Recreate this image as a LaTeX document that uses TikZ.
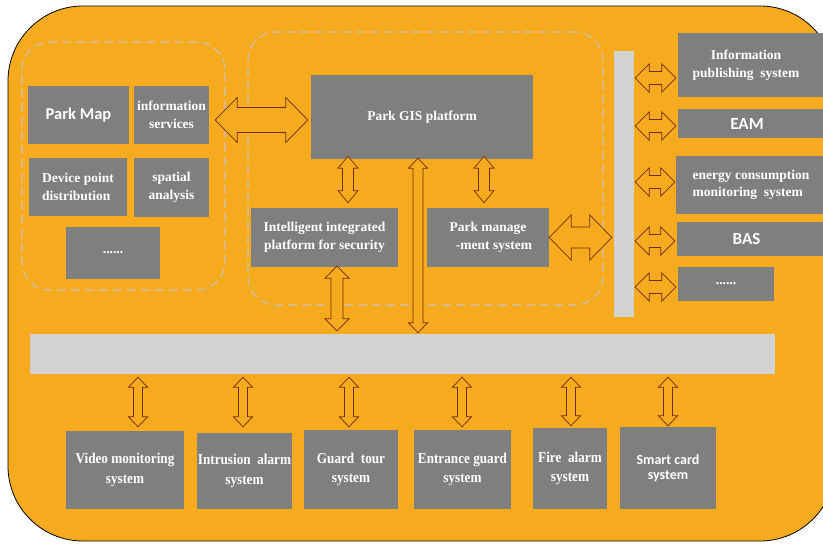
\documentclass[tikz,border=0pt]{standalone}
\usepackage{fontspec}
\setmainfont{Liberation Serif}
\newfontfamily\calfont{Carlito}
\newfontfamily\condfont[FakeStretch=0.88]{Liberation Serif}
\usetikzlibrary{calc}
\definecolor{bgorange}{RGB}{246,170,30}
\definecolor{boxgray}{RGB}{127,127,127}
\definecolor{bargray}{RGB}{210,210,210}
\definecolor{arrowc}{RGB}{110,45,15}
\definecolor{dashgray}{RGB}{200,195,185}
\newcommand\bx[2]{\x1+(#1)*\n3-(#2)*\n4}
\newcommand\by[2]{\y1+(#1)*\n4+(#2)*\n3}
\tikzset{
  bsw/.store in=\bsw, bhw/.store in=\bhw, bhl/.store in=\bhl,
  bsw=5, bhw=10, bhl=10,
  blockarrow/.style={draw=arrowc, fill=bgorange, line width=0.7pt, line join=miter,
    to path={let \p1=(\tikztostart), \p2=(\tikztotarget),
      \n2={veclen(\x2-\x1,\y2-\y1)}, \n3={(\x2-\x1)/\n2}, \n4={(\y2-\y1)/\n2} in
      -- ({\bx{\bhl}{\bhw}},{\by{\bhl}{\bhw}})
      -- ({\bx{\bhl}{\bsw}},{\by{\bhl}{\bsw}})
      -- ({\bx{\n2-\bhl}{\bsw}},{\by{\n2-\bhl}{\bsw}})
      -- ({\bx{\n2-\bhl}{\bhw}},{\by{\n2-\bhl}{\bhw}})
      -- ({\bx{\n2}{0}},{\by{\n2}{0}})
      -- ({\bx{\n2-\bhl}{-\bhw}},{\by{\n2-\bhl}{-\bhw}})
      -- ({\bx{\n2-\bhl}{-\bsw}},{\by{\n2-\bhl}{-\bsw}})
      -- ({\bx{\bhl}{-\bsw}},{\by{\bhl}{-\bsw}})
      -- ({\bx{\bhl}{-\bhw}},{\by{\bhl}{-\bhw}})
      -- cycle}},
  box/.style={fill=boxgray, text=white, font=\fontsize{13.5}{17.5}\selectfont\bfseries, align=center, inner sep=0pt},
  sbox/.style={box, font=\calfont\fontsize{16.5}{18}\selectfont\bfseries},
  bbox/.style={box, font=\condfont\fontsize{15}{19.5}\selectfont\bfseries},
  bar/.style={fill=bargray, inner sep=0pt},
  group/.style={draw=dashgray, line width=1.1pt, dash pattern=on 9pt off 5pt, rounded corners=28pt, inner sep=0pt},
}
\begin{document}
\begin{tikzpicture}[x=1pt,y=-1pt]
\useasboundingbox (0,0) rectangle (823,544);
\fill[white] (0,0) rectangle (823,544);
\draw[fill=bgorange, line width=0.8pt, rounded corners=75pt] (8,6) rectangle (835,541);

% dashed groups
\node[group, minimum width=203, minimum height=248] (leftgrp) at (123.5,166) {};
\node[group, minimum width=355, minimum height=273] (midgrp) at (425.5,168.5) {};

% left group boxes
\node[sbox, minimum width=101, minimum height=58] (parkmap) at (78.5,115) {Park Map};
\node[box, minimum width=75, minimum height=58] (infoserv) at (171.5,115) {information\\services};
\node[box, minimum width=98, minimum height=58, align=left] (device) at (78,187) {Device point\\distribution};
\node[box, minimum width=75, minimum height=59] (spatial) at (171.5,187.5) {spatial\\analysis};
\node[box, minimum width=94, minimum height=52] (dotsA) at (113,253) {......};

% middle
\node[box, minimum width=222, minimum height=84] (gis) at (422,117) {Park GIS platform};
\node[box, minimum width=147, minimum height=59] (intel) at (324.5,237.5) {Intelligent integrated\\platform for security};
\node[box, minimum width=122, minimum height=59] (pms) at (488,237.5) {Park manage\\\hspace*{12pt}-ment system};

% bars
\node[bar, minimum width=20, minimum height=266] (vbar) at (624,184) {};
\node[bar, minimum width=745, minimum height=40] (hbar) at (402.5,354) {};

% right boxes
\node[box, minimum width=148, minimum height=64] (infopub) at (752,65) {\hspace*{-12pt}Information\\\hspace*{-12pt}publishing\ \ system};
\node[sbox, minimum width=148, minimum height=29, font=\calfont\fontsize{17}{18}\selectfont\bfseries] (eam) at (752,123.5) {\hspace*{-10pt}EAM};
\node[box, minimum width=150, minimum height=58, align=left] (energy) at (751,185) {energy consumption\\monitoring\ \ system};
\node[sbox, minimum width=149, minimum height=34, font=\calfont\fontsize{17}{18}\selectfont\bfseries] (bas) at (751.5,239) {\hspace*{-10pt}BAS};
\node[box, minimum width=96, minimum height=34] (dotsB) at (726,284) {......};

% bottom boxes
\node[bbox, minimum width=118, minimum height=78] (video) at (125,470) {Video monitoring\\system};
\node[bbox, minimum width=95, minimum height=76] (intr) at (244.5,471) {Intrusion\ \ alarm\\system};
\node[bbox, minimum width=94, minimum height=79] (guard) at (351,469.5) {Guard\ \ tour\\system};
\node[bbox, minimum width=97, minimum height=79] (entr) at (462.5,469.5) {Entrance guard\\system};
\node[bbox, minimum width=74, minimum height=81] (fire) at (570,468.5) {Fire\ \ alarm\\system};
\node[box, minimum width=96, minimum height=82, font=\calfont\fontsize{14}{15}\selectfont\bfseries] (smart) at (668,468) {Smart card\\system};

% arrows
\draw[blockarrow, bsw=12.5, bhw=22.5, bhl=22] ($(infoserv.east)+(6,5)$) to ($(gis.west)+(-3,3)$);
\draw[blockarrow, bsw=5.5, bhw=10, bhl=12] ($(gis.south)+(-74,-3)$) to ($(intel.north)+(23.5,-5)$);
\draw[blockarrow, bsw=5.5, bhw=10, bhl=12] ($(gis.south)+(62,-3)$) to ($(pms.north)+(-4,-5)$);
\draw[blockarrow, bsw=6, bhw=12, bhl=12] ($(intel.south)+(12.5,-1)$) to ($(intel.south |- hbar.north)+(12.5,-3)$);
\draw[blockarrow, bsw=5, bhw=9.5, bhl=10] ($(gis.south)+(-4,-1)$) to ($(gis.south |- hbar.north)+(-4,-1)$);
\draw[blockarrow, bsw=10.5, bhw=22.5, bhl=22] (pms.east) to ($(vbar.west |- pms.east)+(-2,0)$);

\draw[blockarrow, bsw=6.5, bhw=14, bhl=14] ($(vbar.east |- infopub.west)+(1,13)$) to ($(infopub.west)+(-2,13)$);
\draw[blockarrow, bsw=6.5, bhw=14, bhl=14] ($(vbar.east |- eam.west)+(1,2.5)$) to ($(eam.west)+(-2,2.5)$);
\draw[blockarrow, bsw=6.5, bhw=14, bhl=14] ($(vbar.east |- energy.west)+(1,-3)$) to ($(energy.west)+(-1,-3)$);
\draw[blockarrow, bsw=6.5, bhw=14, bhl=14] ($(vbar.east |- bas.west)+(1,2)$) to ($(bas.west)+(-2,2)$);
\draw[blockarrow, bsw=6.5, bhw=14, bhl=14] ($(vbar.east |- dotsB.west)+(1,3)$) to ($(dotsB.west)+(-2,3)$);

\draw[blockarrow, bsw=4.5, bhw=9.5, bhl=10] ($(video.north |- hbar.south)+(13,3)$) to ($(video.north)+(13,-4)$);
\draw[blockarrow, bsw=4.5, bhw=9.5, bhl=10] ($(intr.north |- hbar.south)+(-1.5,3)$) to ($(intr.north)+(-1.5,-6)$);
\draw[blockarrow, bsw=4.5, bhw=9.5, bhl=10] ($(guard.north |- hbar.south)+(-2,3)$) to ($(guard.north)+(-2,-3)$);
\draw[blockarrow, bsw=4.5, bhw=9.5, bhl=10] ($(entr.north |- hbar.south)+(-0.5,3)$) to ($(entr.north)+(-0.5,-3)$);
\draw[blockarrow, bsw=4.5, bhw=9.5, bhl=10] ($(fire.north |- hbar.south)+(1,3)$) to ($(fire.north)+(1,-2)$);
\draw[blockarrow, bsw=4.5, bhw=9.5, bhl=10] ($(smart.north |- hbar.south)+(0,3)$) to ($(smart.north)+(0,-1)$);
\end{tikzpicture}
\end{document}
